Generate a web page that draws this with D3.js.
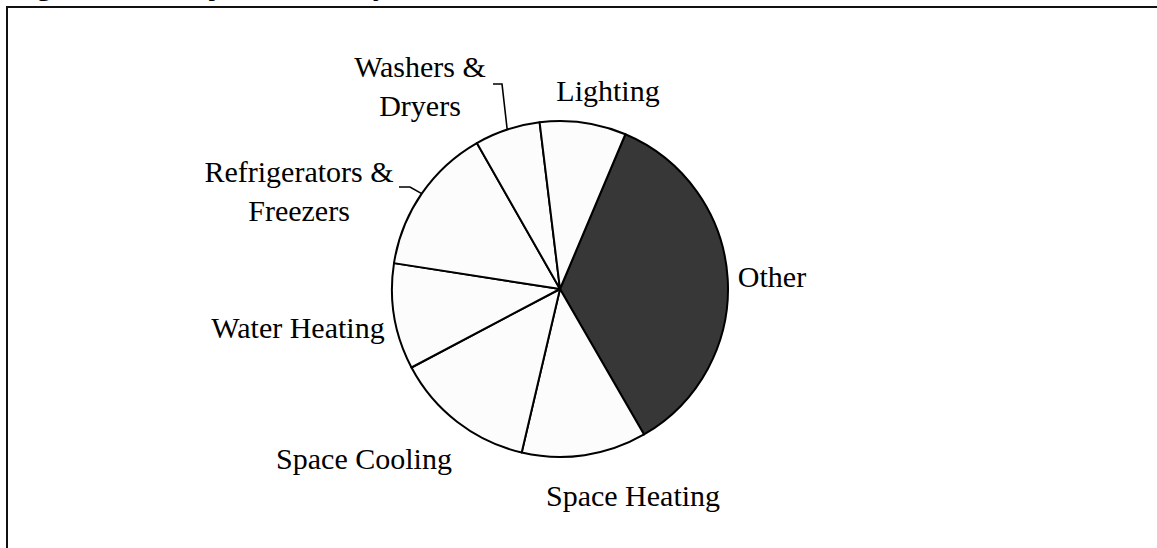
<!DOCTYPE html>
<html>
<head>
<meta charset="utf-8">
<script src="https://cdn.jsdelivr.net/npm/d3@7"></script>
<style>
  html, body { margin: 0; padding: 0; background: #fff; }
  svg { display: block; }
  .label { font-family: "Liberation Serif", "Times New Roman", serif; font-size: 30px; fill: #000; }
  .title { font-family: "Liberation Serif", "Times New Roman", serif; font-size: 30px; font-weight: bold; fill: #000; }
</style>
</head>
<body>
<div id="chart"></div>
<script>
'use strict';

// shares of residential electricity use (%), clockwise from "Other"
var categories = ['Other', 'Space Heating', 'Space Cooling', 'Water Heating',
                  'Refrigerators & Freezers', 'Washers & Dryers', 'Lighting'];
var shares     = [35.3, 12.0, 13.6, 10.2, 14.3, 6.3, 8.3];
var labelLines = [['Other'], ['Space Heating'], ['Space Cooling'], ['Water Heating'],
                  ['Refrigerators &', 'Freezers'], ['Washers &', 'Dryers'], ['Lighting']];
var titleParts = ['Figure 1.', 'Major Electricity End Uses in the Residential Sector', '[1]'];

var width  = 1157,
    height = 548,
    cx     = 560,
    cy     = 289,
    radius = 168,
    lineGap = 39,
    startDeg = 22.9;

// where each label sits, relative to the pie centre (first baseline)
var labelPos = {
    'Other':                    [212, -2],
    'Space Heating':            [73, 217],
    'Space Cooling':            [-196, 180],
    'Water Heating':            [-262, 49],
    'Refrigerators & Freezers': [-261, -107],
    'Washers & Dryers':         [-140, -212],
    'Lighting':                 [48, -188]
};
// elbow of the leader lines (start, bend), relative to the centre
var leaders = {
    'Refrigerators & Freezers': [[-161, -102], [-150, -102]],
    'Washers & Dryers':         [[-67, -205], [-58, -205]]
};

var fillFor = function(name) { return name === 'Other' ? '#373737' : '#fcfcfc'; };

var svg = d3.select('#chart').append('svg')
    .attr('width', width)
    .attr('height', height);

// title, mostly cut off above the page
var title = svg.append('text')
    .attr('class', 'title')
    .attr('y', -5);
title.selectAll('tspan')
    .data(titleParts)
    .enter().append('tspan')
    .attr('x', function(d, i) { return [10, 166, 940][i]; })
    .text(function(d) { return d; });

// frame (top and left edges only are on the page)
svg.append('path')
    .attr('d', 'M7,' + height + 'V7H' + width)
    .attr('fill', 'none')
    .attr('stroke', '#111')
    .attr('stroke-width', 2);

var data = categories.map(function(c, i) { return { name: c, value: shares[i], lines: labelLines[i] }; });

var startAngle = startDeg * Math.PI / 180;
var pie = d3.pie()
    .sort(null)
    .value(function(d) { return d.value; })
    .startAngle(startAngle)
    .endAngle(startAngle + 2 * Math.PI);

var arc = d3.arc().innerRadius(0).outerRadius(radius);

var g = svg.append('g')
    .attr('transform', 'translate(' + cx + ',' + cy + ')');

var arcs = pie(data);

g.selectAll('path.slice')
    .data(arcs)
    .enter().append('path')
    .attr('class', 'slice')
    .attr('d', arc)
    .attr('fill', function(d) { return fillFor(d.data.name); })
    .attr('stroke', '#000')
    .attr('stroke-width', 2)
    .attr('stroke-linejoin', 'round');

// leader lines end on the rim at the middle of their slice
g.selectAll('path.leader')
    .data(arcs.filter(function(d) { return leaders[d.data.name]; }))
    .enter().append('path')
    .attr('class', 'leader')
    .attr('fill', 'none')
    .attr('stroke', '#000')
    .attr('stroke-width', 1.6)
    .attr('d', function(d) {
        var mid = (d.startAngle + d.endAngle) / 2,
            end = [radius * Math.sin(mid), -radius * Math.cos(mid)],
            pts = leaders[d.data.name].concat([end]);
        return d3.line()(pts);
    });

var labels = g.selectAll('text.label')
    .data(arcs)
    .enter().append('text')
    .attr('class', 'label')
    .attr('text-anchor', 'middle')
    .attr('transform', function(d) {
        var p = labelPos[d.data.name];
        return 'translate(' + p[0] + ',' + p[1] + ')';
    });

labels.selectAll('tspan')
    .data(function(d) { return d.data.lines; })
    .enter().append('tspan')
    .attr('x', 0)
    .attr('y', function(d, i) { return i * lineGap; })
    .text(function(d) { return d; });
</script>
</body>
</html>
